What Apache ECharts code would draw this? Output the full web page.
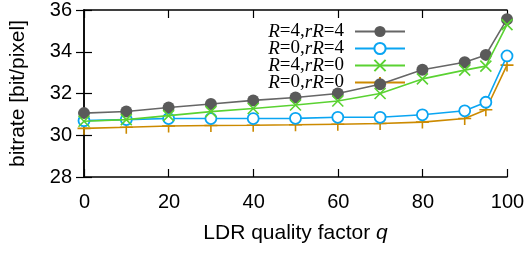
<!DOCTYPE html>
<html>
<head>
<meta charset="utf-8">
<script src="https://cdn.jsdelivr.net/npm/echarts@6/dist/echarts.min.js"></script>
<style>html,body{margin:0;padding:0;background:#fff}#c{width:528px;height:272px}</style>
</head>
<body>
<div id="c"></div>
<script>
const qValues = [0, 10, 20, 30, 40, 50, 60, 70, 80, 90, 95, 100];
const seriesNames = ['R=4,rR=4', 'R=0,rR=4', 'R=4,rR=0', 'R=0,rR=0'];
const r4rR4 = [31.06, 31.14, 31.33, 31.5, 31.67, 31.81, 32.0, 32.44, 33.14, 33.5, 33.85, 35.56];
const r0rR4 = [30.7, 30.75, 30.8, 30.8, 30.8, 30.81, 30.86, 30.86, 30.98, 31.17, 31.58, 33.8];
const r4rR0 = [30.67, 30.75, 30.94, 31.13, 31.28, 31.45, 31.64, 32.0, 32.7, 33.12, 33.31, 35.3];
const r0rR0 = [30.33, 30.38, 30.44, 30.47, 30.48, 30.5, 30.53, 30.56, 30.63, 30.8, 31.22, 33.36];
const xTicks = [0, 20, 40, 60, 80, 100];
const yTicks = [28, 30, 32, 34, 36];

const chart = echarts.init(document.getElementById('c'));
const pairs = (arr) => qValues.map((q, i) => [q, arr[i]]);
const sans = 'Liberation Sans';
const serif = 'Liberation Serif';
const axisCommon = {
  axisLine: { lineStyle: { color: '#000', width: 1.5 } },
  axisTick: { inside: true, length: 8, lineStyle: { color: '#000', width: 1.2 } },
  splitLine: { show: false }
};
const crossPath = 'path://M0,0L10,10M10,0L0,10';
const plusPath = 'path://M5,0L5,10M0,5L10,5';
chart.setOption({
  animation: false,
  grid: { left: 77, right: 21, top: 5, bottom: 95 },
  legend: {
    orient: 'vertical',
    right: 117,
    top: 17,
    align: 'right',
    itemWidth: 50,
    itemHeight: 14,
    itemGap: -2,
    data: seriesNames,
    formatter: function (name) {
      const m = name.match(/R=(\d),rR=(\d)/);
      return '{i|R}{n|=' + m[1] + ',}{i|rR}{n|=' + m[2] + '}';
    },
    textStyle: {
      padding: [0, 6, 0, 0],
      rich: {
        i: { fontFamily: serif, fontStyle: 'italic', fontSize: 19, lineHeight: 17, color: '#000' },
        n: { fontFamily: serif, fontSize: 19, lineHeight: 17, color: '#000' }
      }
    }
  },
  xAxis: [
    Object.assign({
      type: 'value', min: 0, max: 100, interval: 20, position: 'bottom',
      name: '{a|LDR quality factor }{b|q}',
      nameLocation: 'middle', nameGap: 46,
      nameTextStyle: { rich: {
        a: { fontFamily: sans, fontSize: 21, color: '#000' },
        b: { fontFamily: sans, fontStyle: 'italic', fontSize: 21, color: '#000' }
      } },
      axisLabel: { fontFamily: sans, fontSize: 20, color: '#000', margin: 15, padding: [0, 0, 0, 1],
        formatter: v => xTicks.includes(v) ? String(v) : '' }
    }, axisCommon),
    Object.assign({
      type: 'value', min: 0, max: 100, interval: 20, position: 'top',
      axisLabel: { show: false }
    }, axisCommon)
  ],
  yAxis: [
    Object.assign({
      type: 'value', min: 28, max: 36, interval: 2, position: 'left',
      name: 'bitrate [bit/pixel]',
      nameLocation: 'middle', nameGap: 55, nameRotate: 90,
      nameTextStyle: { fontFamily: sans, fontSize: 21, color: '#000' },
      axisLabel: { fontFamily: sans, fontSize: 20, color: '#000', margin: 12, padding: [9, 0, 0, 0],
        formatter: v => yTicks.includes(v) ? String(v) : '' }
    }, axisCommon),
    Object.assign({
      type: 'value', min: 28, max: 36, interval: 2, position: 'right',
      axisLabel: { show: false }
    }, axisCommon)
  ],
  series: [
    { name: seriesNames[0], type: 'line', data: pairs(r4rR4), symbol: 'circle', symbolSize: 12,
      lineStyle: { color: '#666666', width: 1.6 }, itemStyle: { color: '#5a5a5a' }, z: 4 },
    { name: seriesNames[1], type: 'line', data: pairs(r0rR4), symbol: 'circle', symbolSize: 11,
      lineStyle: { color: '#0aa5f2', width: 1.6 }, itemStyle: { color: '#ffffff', borderColor: '#0aa5f2', borderWidth: 1.8 }, z: 3 },
    { name: seriesNames[2], type: 'line', data: pairs(r4rR0), symbol: crossPath, symbolSize: 11,
      lineStyle: { color: '#5ad232', width: 1.6 }, itemStyle: { color: '#5ad232', borderColor: '#5ad232', borderWidth: 1.6 }, z: 5 },
    { name: seriesNames[3], type: 'line', data: pairs(r0rR0), symbol: plusPath, symbolSize: 13,
      lineStyle: { color: '#cc8a00', width: 1.6 }, itemStyle: { color: '#cc8a00', borderColor: '#cc8a00', borderWidth: 1.6 }, z: 2 }
  ]
});
</script>
</body>
</html>
